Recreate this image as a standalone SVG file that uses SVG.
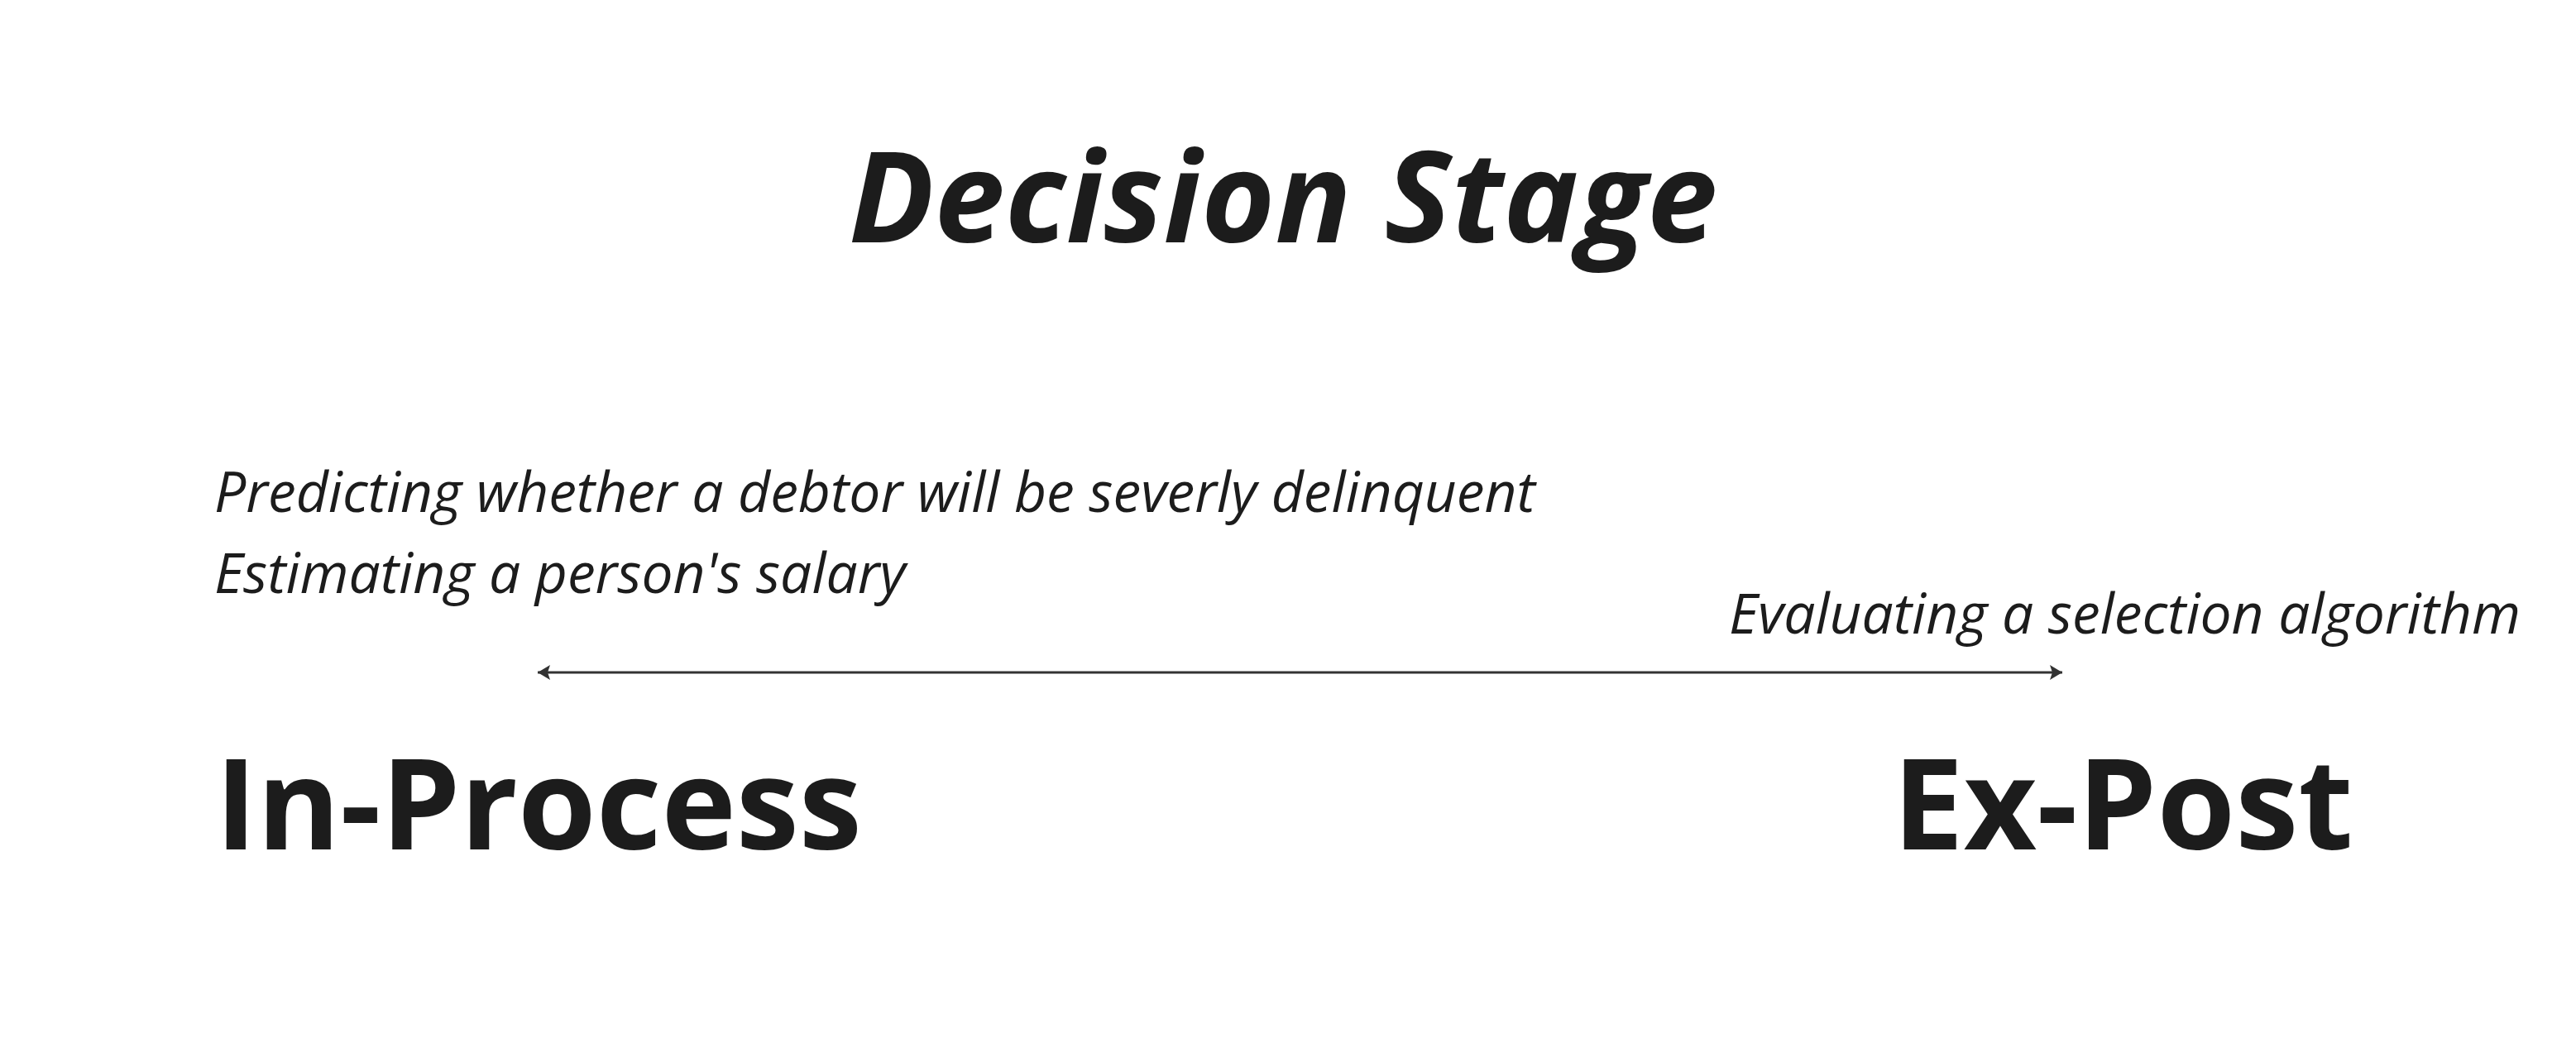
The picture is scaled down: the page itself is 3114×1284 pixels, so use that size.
<svg xmlns="http://www.w3.org/2000/svg" width="3114" height="1284" viewBox="0 0 3114 1284">
<style>
text{font-family:"Open Sans","Noto Sans","Liberation Sans",sans-serif;fill:#1c1c1c}
.title{font-size:153px;font-weight:700;font-style:italic}
.big{font-size:153px;font-weight:700}
.ex{font-size:67.7px;font-style:italic}
</style>
<defs>
<marker id="ah" markerUnits="userSpaceOnUse" markerWidth="20" markerHeight="22" refX="16" refY="9" orient="auto-start-reverse">
<path d="M1,0 L16,9 L1,18 L4,9 Z" fill="#333"/>
</marker>
</defs>
<rect width="3114" height="1284" fill="#fff"/>
<g id="title"><text class="title" x="1026" y="293">Decision Stage</text></g>
<g id="connectors">
<line x1="650" y1="813" x2="2493" y2="813" stroke="#333" stroke-width="3" marker-start="url(#ah)" marker-end="url(#ah)"/>
</g>
<g id="in-process">
<text class="ex" x="259" y="619">Predicting whether a debtor will be severly delinquent</text>
<text class="ex" x="259" y="717">Estimating a person's salary</text>
<text class="big" x="260" y="1027">In-Process</text>
</g>
<g id="ex-post">
<text class="ex" x="2090" y="766">Evaluating a selection algorithm</text>
<text class="big" x="2288" y="1027">Ex-Post</text>
</g>
</svg>
